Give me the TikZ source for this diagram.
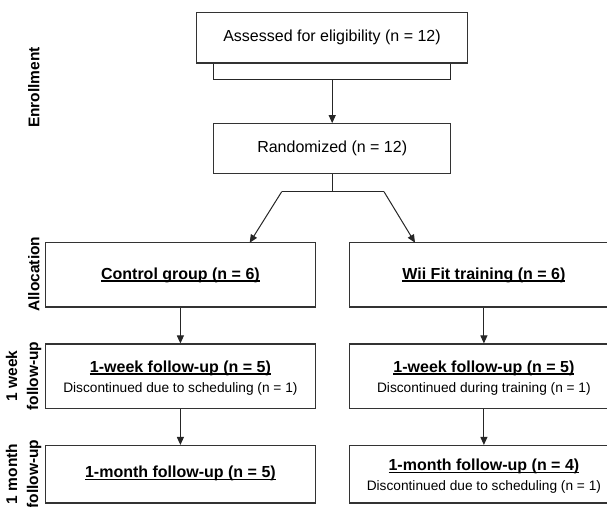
\documentclass[tikz,border=0pt]{standalone}
\usepackage{fontspec}
\setmainfont{Liberation Sans}
\usetikzlibrary{arrows.meta}
\newcommand\ulx[1]{\setbox0\hbox{#1}\rlap{\rule[-2.4pt]{\wd0}{1.1pt}}\box0}
\begin{document}
\begin{tikzpicture}[x=1pt,y=-1pt,
  box/.style={draw=black!80, line width=1.1pt, inner sep=0, font=\fontsize{16}{19}\selectfont},
  ln/.style={draw=black!85, line width=1pt},
  arr/.style={draw=black!85, line width=1pt, -{Triangle[length=8pt,width=7pt]}},
  side/.style={font=\bfseries\fontsize{15.5}{21}\selectfont, rotate=90, align=center, inner sep=0},
  boldt/.style={font=\bfseries\fontsize{16}{19}\selectfont, inner sep=0},
  smallt/.style={font=\fontsize{13.7}{16}\selectfont, inner sep=0}]
\useasboundingbox (0,0) rectangle (607,506);
\clip (0,0) rectangle (607,506);

% boxes
\node[box, minimum width=270.6pt, minimum height=50.7pt] (assess) at (332,37.65) {Assessed for eligibility (n = 12)};
\node[box, minimum width=237pt, minimum height=50pt] (rand) at (332.2,148.7) {Randomized (n = 12)};
\node[box, minimum width=269.4pt, minimum height=64.3pt] (ctrl) at (180.4,274.85) {};
\node[box, minimum width=269.4pt, minimum height=64.3pt] (wii) at (483.9,274.85) {};
\node[box, minimum width=269.4pt, minimum height=64.3pt] (wk1c) at (180.4,376.15) {};
\node[box, minimum width=269.4pt, minimum height=64.3pt] (wk1w) at (483.9,376.15) {};
\node[box, minimum width=269.4pt, minimum height=57.5pt] (mo1c) at (180.4,474.25) {};
\node[box, minimum width=269.4pt, minimum height=57.5pt] (mo1w) at (483.9,474.25) {};

% texts in boxes
\node[boldt] (ctrlT) at (180.4,275) {\ulx{Control group (n = 6)}};
\node[boldt] (wiiT) at (483.9,275) {\ulx{Wii Fit training (n = 6)}};
\node[boldt] (wk1cT) at (180.4,368) {\ulx{1-week follow-up (n = 5)}};
\node[smallt] (wk1cD) at (180.4,389) {Discontinued due to scheduling (n = 1)};
\node[boldt] (wk1wT) at (483.9,368) {\ulx{1-week follow-up (n = 5)}};
\node[smallt] (wk1wD) at (483.9,389) {Discontinued during training (n = 1)};
\node[boldt] (mo1cT) at (180.4,473.5) {\ulx{1-month follow-up (n = 5)}};
\node[boldt] (mo1wT) at (483.9,466.7) {\ulx{1-month follow-up (n = 4)}};
\node[smallt] (mo1wD) at (483.9,486.7) {Discontinued due to scheduling (n = 1)};

% side labels
\node[side] (enr) at (33.9,87.5) {Enrollment};
\node[side] (alloc) at (33.9,274.2) {Allocation};
\node[side] (wk) at (23.7,376) {1 week\\follow-up};
\node[side] (mo) at (23.7,474) {1 month\\follow-up};

% connectors
\coordinate (brL) at (213.7,79.3);
\coordinate (brR) at (450.7,79.3);
\draw[ln] (brL |- assess.south) -- (brL) -- (brR) -- (brR |- assess.south);
\draw[arr] (rand.north |- brL) -- (rand.north);

\coordinate (sp) at (332.2,191.7);
\coordinate (spL) at (281.7,191.7);
\coordinate (spR) at (384,191.7);
\coordinate (tipL) at (249.7,242.7);
\coordinate (tipR) at (415,242.7);
\draw[ln] (rand.south) -- (sp);
\draw[ln] (spL) -- (spR);
\draw[arr] (spL) -- (tipL);
\draw[arr] (spR) -- (tipR);

\draw[arr] (ctrl.south) -- (wk1c.north);
\draw[arr] (wii.south) -- (wk1w.north);
\draw[arr] (wk1c.south) -- (mo1c.north);
\draw[arr] (wk1w.south) -- (mo1w.north);
\end{tikzpicture}
\end{document}
